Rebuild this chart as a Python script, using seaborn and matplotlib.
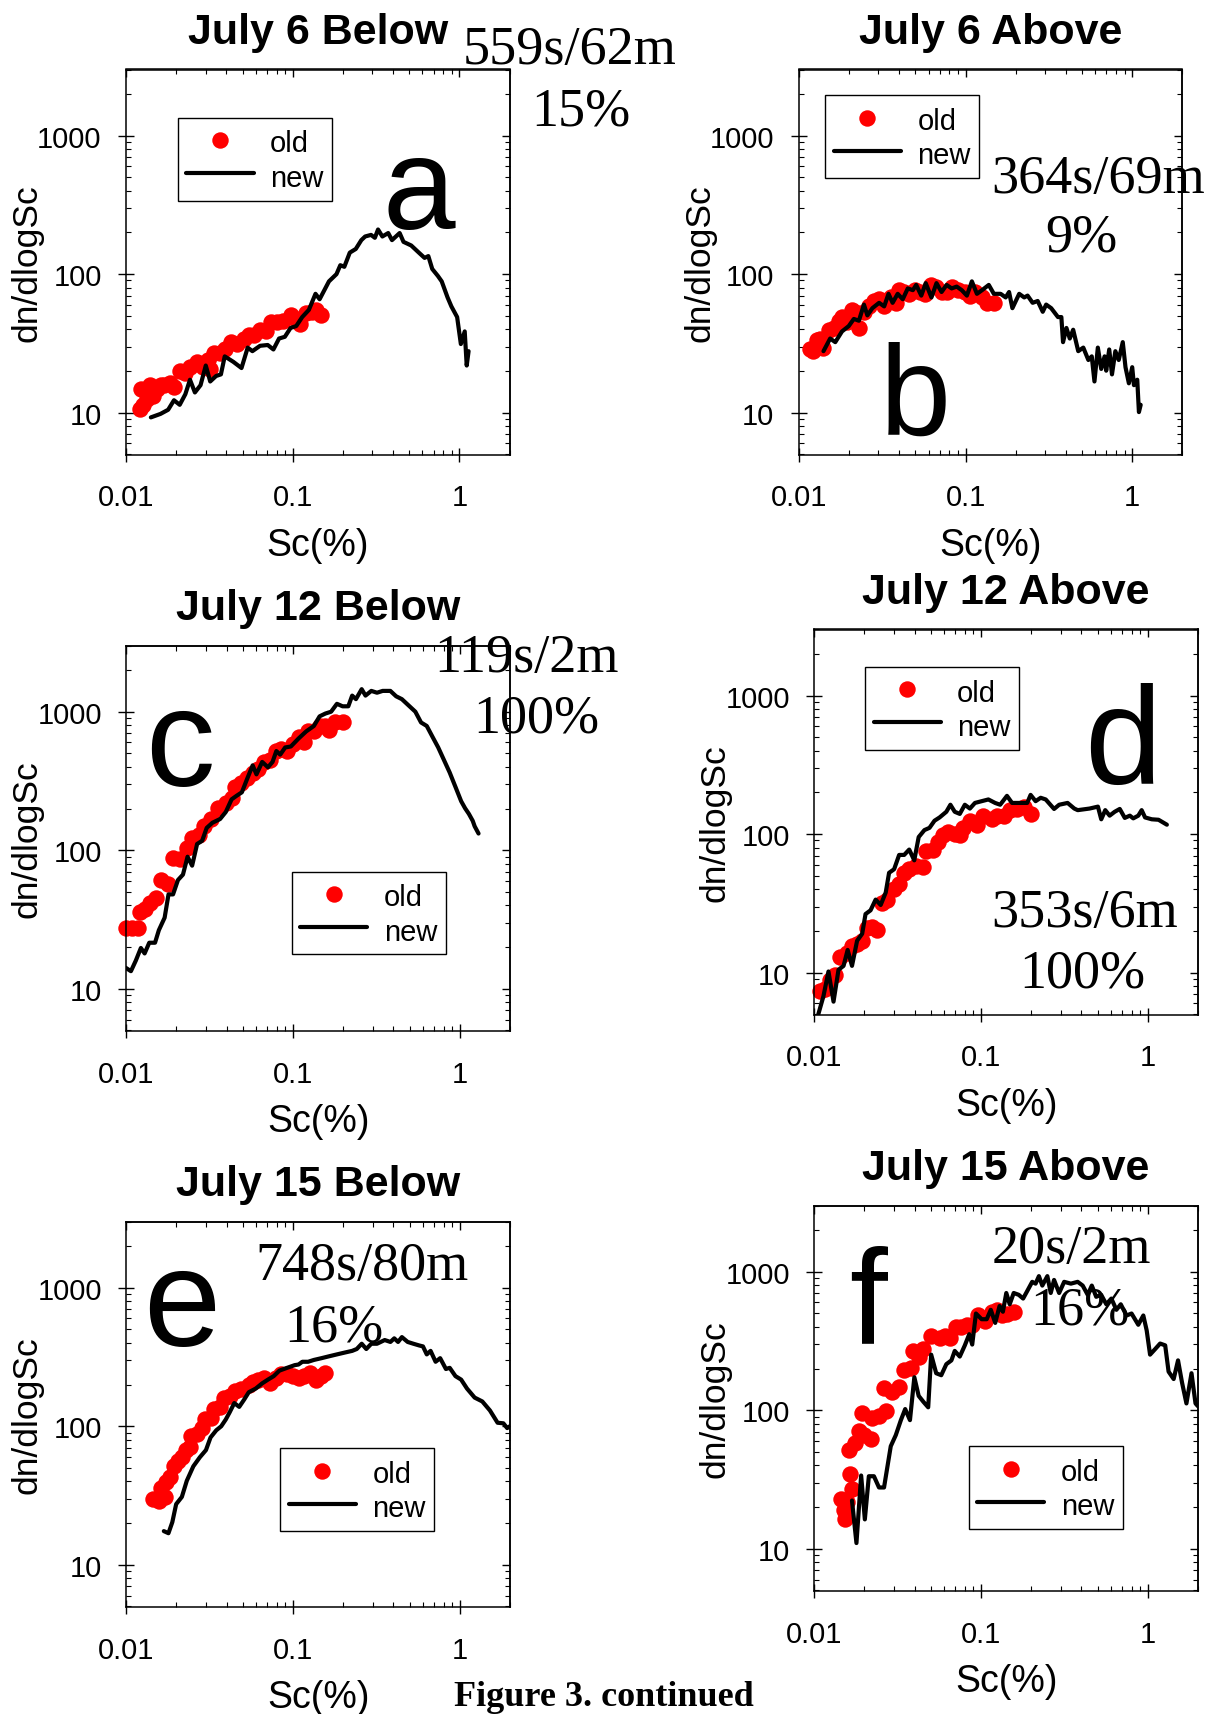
import numpy as np
import matplotlib
matplotlib.use("Agg")
import matplotlib.pyplot as plt
import seaborn as sns
from matplotlib.ticker import LogLocator, NullFormatter, FixedLocator

# ---------------- data (Sc in %, dn/dlogSc) ----------------
A_TITLE = "July 6 Below"
A_OLD = [(0.01216,10.7),(0.01269,11.4),(0.01236,14.9),(0.01337,12.5),(0.01395,15.8),(0.01448,13.2),
         (0.01528,14.9),(0.01611,15.8),(0.01698,15.8),(0.01838,16.3),(0.01938,15.4),(0.02096,20.1),
         (0.0227,19.5),(0.02432,21.3),(0.02661,23.3),(0.02879,21.3),(0.03084,24.0),(0.032,20.7),
         (0.03373,27.0),(0.03653,27.0),(0.0391,28.6),(0.0428,32.3),(0.04634,31.3),(0.05093,34.3),
         (0.05486,36.4),(0.05876,36.4),(0.06364,39.7),(0.06892,38.6),(0.07456,44.8),(0.08075,44.8),
         (0.0874,46.1),(0.09707,50.4),(0.1051,47.5),(0.1109,43.4),(0.12,52.0),(0.1299,53.5),
         (0.137,55.2),(0.1483,50.4)]
A_NEW = [(0.0141,9.25),(0.0161,9.8),(0.0179,10.5),(0.0194,12.3),(0.0210,11.4),(0.0227,13.6),
         (0.0242,17.3),(0.0259,14.0),(0.0280,15.8),(0.0301,21.9),(0.0320,16.8),(0.0347,18.4),
         (0.0371,18.9),(0.0391,25.5),(0.0440,23.3),(0.0493,21.0),(0.0537,29.5),(0.0573,27.8),
         (0.0637,30.4),(0.0708,30.8),(0.0766,28.6),(0.0828,34.3),(0.0897,35.3),(0.0971,40.9),
         (0.105,42.2),(0.114,49.0),(0.125,55.2),(0.137,72.1),(0.145,65.9),(0.165,88.7),
         (0.183,100),(0.193,116),(0.204,113),(0.220,143),(0.239,152),(0.258,176),(0.272,187),
         (0.295,192),(0.311,183),(0.325,210),(0.345,187),(0.374,198),(0.394,176),(0.438,198),
         (0.462,171),(0.514,161),(0.571,143),(0.618,131),(0.651,135),(0.687,109),(0.743,97),
         (0.783,88.7),(0.849,67.9),(0.895,58.5),(0.969,49),(1.02,31.3),(1.076,38.6),(1.106,21.9),
         (1.135,27.8)]

B_TITLE = "July 6 Above"
B_OLD = [(0.01166,28.6),(0.01222,27.8),(0.01281,33.3),(0.01342,34.3),(0.01406,29.5),(0.01508,39.7),
         (0.01616,40.9),(0.01733,46.1),(0.01816,49.0),(0.01946,44.8),(0.02087,55.2),(0.02187,53.5),
         (0.02292,40.9),(0.02458,53.5),(0.02635,58.5),(0.02825,64.0),(0.03032,65.9),(0.03252,58.5),
         (0.03571,67.9),(0.03829,62.1),(0.04011,76.6),(0.04301,74.3),(0.04611,72.1),(0.04944,76.6),
         (0.05302,74.3),(0.05685,72.1),(0.06247,83.6),(0.06698,81.3),(0.07182,74.3),(0.07701,74.3),
         (0.08258,81.3),(0.09062,76.6),(0.09945,74.3),(0.1066,70.0),(0.1145,74.3),(0.1256,67.9),
         (0.1348,62.1),(0.1479,62.1)]
B_NEW = [(0.01406,27.8),(0.01542,34.3),(0.01655,32.3),(0.01816,38.6),(0.01994,42.2),(0.02138,47.5),
         (0.02293,46.1),(0.02459,60.3),(0.02578,50.4),(0.02763,56.8),(0.03032,62.1),(0.03252,58.5),
         (0.03453,72.1),(0.03653,62.1),(0.03918,72.1),(0.04202,65.9),(0.04506,78.9),(0.04832,76.6),
         (0.05062,83.6),(0.05429,70.0),(0.05772,86.1),(0.06246,67.9),(0.06698,86.1),(0.07182,74.3),
         (0.07701,83.6),(0.08259,78.9),(0.08857,81.3),(0.09496,76.6),(0.1019,70.0),(0.1092,88.7),
         (0.1171,72.1),(0.1256,76.6),(0.1379,83.6),(0.1479,72.1),(0.1624,72.1),(0.1742,67.9),
         (0.1825,74.3),(0.1911,56.8),(0.2099,72.1),(0.225,67.9),(0.2357,70.0),(0.2527,62.1),
         (0.271,64.0),(0.2906,53.5),(0.3046,60.3),(0.3266,56.8),(0.3586,49.0),(0.3758,49.0),
         (0.3846,32.3),(0.403,40.9),(0.4222,34.3),(0.4424,39.7),(0.4745,27.8),(0.5088,29.5),
         (0.5457,24.0),(0.5718,25.5),(0.5936,16.8),(0.622,29.5),(0.6518,20.7),(0.6829,25.5),
         (0.6982,20.1),(0.7279,28.6),(0.7561,18.9),(0.7922,27.8),(0.83,24.0),(0.8776,32.3),
         (0.9113,21.3),(0.9549,16.3),(1.0,21.3),(1.024,15.8),(1.072,17.3),(1.097,10.1),(1.124,11.4)]

C_TITLE = "July 12 Below"
C_OLD = [(0.01,27.4),(0.01082,27.4),(0.01172,27.4),(0.01203,35.8),(0.01303,37.9),(0.01395,41.5),
         (0.01511,45.3),(0.0161,61.1),(0.0179,57.5),(0.01907,87.3),(0.02096,86.1),(0.02305,104),
         (0.02482,123),(0.02731,128),(0.02909,149),(0.032,168),(0.03557,201),(0.03953,219),
         (0.04281,240),(0.04513,287),(0.04885,304),(0.05283,332),(0.05727,364),(0.06196,386),
         (0.06708,434),(0.07262,448),(0.07863,520),(0.08509,535),(0.09211,520),(0.0997,585),
         (0.1079,659),(0.1168,603),(0.1232,721),(0.1334,721),(0.1444,789),(0.1564,789),
         (0.1649,743),(0.1784,836),(0.1983,836)]
C_NEW = [(0.0099,14.2),(0.01066,13.4),(0.01141,16.0),(0.01223,19.7),(0.01288,18.0),(0.01373,21.5),
         (0.01487,21.5),(0.01568,26.5),(0.01698,32.6),(0.01791,48.0),(0.01907,48.0),(0.02042,61.0),
         (0.02187,66.7),(0.0233,89.8),(0.02482,77.4),(0.02659,111),(0.0285,117),(0.03036,145),
         (0.03287,158),(0.03652,168),(0.03953,189),(0.04281,233),(0.04582,247),(0.04935,262),
         (0.05283,323),(0.05727,410),(0.06036,353),(0.06534,434),(0.07074,397),(0.07537,434),
         (0.07944,520),(0.0838,490),(0.08975,552),(0.09707,561),(0.1079,640),(0.12,721),
         (0.1334,789),(0.1444,926),(0.1564,970),(0.1693,1000),(0.1834,1140),(0.1984,1094),
         (0.2146,1094),(0.2264,1307),(0.2385,1232),(0.2582,1454),(0.2722,1307),(0.2949,1413),
         (0.319,1371),(0.3451,1413),(0.3836,1413),(0.4155,1292),(0.4497,1232),(0.5,1094),
         (0.5418,1000),(0.5862,836),(0.6343,789),(0.6866,659),(0.743,552),(0.8045,448),
         (0.8706,364),(0.9424,287),(1.02,226),(1.077,201),(1.135,183),(1.197,163),(1.229,149),
         (1.297,132)]

D_TITLE = "July 12 Above"
D_OLD = [(0.01082,7.38),(0.01161,7.60),(0.01245,8.83),(0.01335,9.65),(0.01431,13.0),(0.01571,13.8),
         (0.01684,15.5),(0.01806,16.0),(0.01936,17.0),(0.02076,20.9),(0.02226,21.5),(0.02387,20.3),
         (0.02559,31.7),(0.02744,33.7),(0.0301,40.3),(0.03228,44.0),(0.03461,52.6),(0.03711,55.8),
         (0.04071,59.3),(0.04475,57.5),(0.04686,75.2),(0.05142,77.4),(0.05514,87.3),(0.05913,98.2),
         (0.0634,104),(0.06957,101),(0.0746,98.2),(0.07814,111),(0.08577,125),(0.09412,117),
         (0.1033,136),(0.1161,128),(0.1245,136),(0.1366,136),(0.1499,149),(0.1645,153),
         (0.1806,158),(0.1982,140)]
D_NEW = [(0.01057,5.01),(0.01134,6.75),(0.01216,10.2),(0.01304,6.18),(0.01397,10.5),(0.01498,11.2),
         (0.01585,14.6),(0.01683,11.2),(0.01806,17.0),(0.01937,19.1),(0.02029,26.5),(0.02175,28.2),
         (0.02333,33.7),(0.02501,30.8),(0.02682,37.9),(0.02809,52.6),(0.03011,55.8),(0.03228,70.8),
         (0.0346,70.8),(0.0371,77.4),(0.03978,64.7),(0.04228,95.3),(0.04577,107),(0.04907,111),
         (0.05261,125),(0.05643,132),(0.06194,145),(0.06553,163),(0.06958,145),(0.07459,140),
         (0.07998,163),(0.08577,153),(0.09197,168),(0.101,173),(0.1107,178),(0.1215,168),
         (0.1303,163),(0.1431,189),(0.1535,168),(0.1645,168),(0.1806,168),(0.1893,168),
         (0.1984,192),(0.2126,173),(0.228,183),(0.2444,178),(0.2744,152),(0.2943,163),
         (0.3306,168),(0.3628,153),(0.3803,149),(0.4477,153),(0.5027,158),(0.5263,128),
         (0.5563,149),(0.5911,136),(0.6338,145),(0.6796,152),(0.7287,131),(0.7814,136),
         (0.8188,130),(0.878,136),(0.9196,149),(0.9641,132),(1.058,128),(1.161,127),(1.303,117)]

E_TITLE = "July 15 Below"
E_OLD = [(0.01448,30.0),(0.01567,29.1),(0.01697,30.9),(0.0161,35.9),(0.01742,39.3),(0.01837,43.0),
         (0.01937,51.4),(0.02042,56.2),(0.02154,59.7),(0.02271,67.3),(0.02395,71.4),(0.02459,85.5),
         (0.0266,88.1),(0.0285,96.4),(0.02957,112),(0.032,115),(0.03373,134),(0.03653,138),
         (0.03852,161),(0.04168,166),(0.04514,181),(0.04886,187),(0.05427,198),(0.05727,210),
         (0.06196,217),(0.06708,223),(0.07262,204),(0.07863,223),(0.08509,237),(0.09211,237),
         (0.0997,230),(0.1079,223),(0.1168,230),(0.1264,244),(0.137,217),(0.1482,230),(0.1564,244)]
E_NEW = [(0.01679,17.5),(0.0179,16.9),(0.01888,20.3),(0.01991,27.4),(0.02154,30.9),(0.02306,40.4),
         (0.02524,51.4),(0.02761,59.7),(0.03005,67.3),(0.03201,83.0),(0.03465,93.5),(0.03711,100),
         (0.03953,112),(0.04168,126),(0.04444,147),(0.04757,138),(0.05097,156),(0.05427,176),
         (0.05974,187),(0.06533,204),(0.07073,217),(0.07662,230),(0.08287,252),(0.09211,264),
         (0.1023,276),(0.1079,279),(0.1138,292),(0.1232,292),(0.1334,301),(0.1482,310),
         (0.1648,320),(0.1833,330),(0.2037,340),(0.2264,350),(0.2412,361),(0.2583,394),
         (0.2752,361),(0.2949,394),(0.319,394),(0.3548,419),(0.3841,406),(0.4049,431),
         (0.4268,406),(0.4499,440),(0.4872,406),(0.5274,394),(0.5711,383),(0.6019,377),
         (0.6344,330),(0.6687,350),(0.7167,292),(0.7634,310),(0.8264,259),(0.871,264),
         (0.943,230),(1.02,217),(1.106,187),(1.229,161),(1.366,151),(1.518,130),(1.687,106),
         (1.827,105),(1.926,97),(2.0,100)]

F_TITLE = "July 15 Above"
F_OLD = [(0.01451,23.0),(0.01499,19.1),(0.01534,16.3),(0.01571,21.6),(0.01684,26.9),(0.01645,34.5),
         (0.01607,51.6),(0.01763,58.5),(0.01848,70.5),(0.01982,66.2),(0.02174,62.2),(0.01936,95.9),
         (0.02225,87.4),(0.02442,90.2),(0.0268,99.1),(0.02619,144),(0.02943,135),(0.0323,148),
         (0.03463,196),(0.038,202),(0.03888,268),(0.04268,244),(0.04474,276),(0.05025,344),
         (0.05643,333),(0.06052,344),(0.0649,333),(0.07122,401),(0.07638,401),(0.08191,414),
         (0.08784,414),(0.0964,483),(0.1058,440),(0.1161,514),(0.1245,531),(0.1334,483),
         (0.1431,499),(0.1571,514)]
F_NEW = [(0.01683,22.3),(0.0179,11.0),(0.0191,33.8),(0.0201,16.3),(0.02124,33.4),(0.02279,33.4),
         (0.02444,27.7),(0.0262,27.7),(0.02875,55.0),(0.03083,66.2),(0.03306,84.8),(0.03509,102),
         (0.03748,84.8),(0.03982,173),(0.04227,127),(0.04514,115),(0.04822,105),(0.05025,252),
         (0.05385,185),(0.05775,179),(0.06194,215),(0.06643,229),(0.06958,268),(0.07459,244),
         (0.07998,294),(0.085,354),(0.08856,298),(0.09324,499),(0.1009,454),(0.1082,454),
         (0.1145,531),(0.1217,427),(0.1292,565),(0.1353,514),(0.1418,702),(0.1486,582),
         (0.1571,702),(0.1684,681),(0.1789,640),(0.1892,724),(0.2028,845),(0.2125,820),
         (0.2225,929),(0.2332,794),(0.25,929),(0.262,702),(0.2743,872),(0.2942,702),
         (0.3154,845),(0.346,820),(0.38,845),(0.4073,794),(0.4366,681),(0.462,794),(0.4909,659),
         (0.526,681),(0.5643,582),(0.6051,640),(0.6489,531),(0.6891,582),(0.7461,483),(0.8,499),
         (0.8778,414),(0.9411,483),(0.9858,377),(1.033,252),(1.107,276),(1.187,303),(1.273,294),
         (1.334,190),(1.431,168),(1.52,229),(1.607,158),(1.707,112),(1.831,185),(1.935,112),
         (2.0,107)]

STATS = {"a": ("559s/62m", "15%"), "b": ("364s/69m", "9%"), "c": ("119s/2m", "100%"),
         "d": ("353s/6m", "100%"), "e": ("748s/80m", "16%"), "f": ("20s/2m", "16%")}

X_TICKS = [0.01, 0.1, 1]
X_TICKLABELS = ["0.01", "0.1", "1"]
Y_TICKS = [10, 100, 1000]
Y_TICKLABELS = ["10", "100", "1000"]
SERIES_LABELS = ("old", "new")
X_LABEL = "Sc(%)"
Y_LABEL = "dn/dlogSc"
CAPTION = "Figure 3. continued"

# ---------------- layout (pixels of a 1209x1715 canvas) ----------------
W, H = 1209, 1715
AX_W, AX_H = 383.6, 385.5
SANS = ["Liberation Sans", "DejaVu Sans"]
SERIF = ["Liberation Serif", "DejaVu Serif"]

sns.set_theme(style="white")
plt.rcParams["font.family"] = SANS
plt.rcParams["axes.edgecolor"] = "black"
plt.rcParams["text.color"] = "black"
plt.rcParams["axes.labelcolor"] = "black"
plt.rcParams["xtick.color"] = "black"
plt.rcParams["ytick.color"] = "black"
plt.rcParams["axes.titlecolor"] = "black"

fig = plt.figure(figsize=(W / 100, H / 100), dpi=100)
fig.patch.set_facecolor("white")

panels = [
    # key, title, old, new, left px, top px, legend (x0, ytop), stat1 (x,y), stat2 (x,y), letter (x,y,size)
    ("a", A_TITLE, A_OLD, A_NEW, 126.0, 70.5, (0.1348, 0.8744), (569.8, 64.3), (581.0, 125.0), (419.0, 228.6, 94)),
    ("b", B_TITLE, B_OLD, B_NEW, 798.8, 70.5, (0.0686, 0.9328), (1098.0, 192.9), (1081.5, 251.8), (915.6, 435.0, 92)),
    ("c", C_TITLE, C_OLD, C_NEW, 126.3, 646.6, (0.4310, 0.4135), (526.7, 671.8), (536.3, 732.5), (179.4, 786.0, 100)),
    ("d", D_TITLE, D_OLD, D_NEW, 814.3, 630.5, (0.1319, 0.9027), (1085.0, 927.0), (1082.3, 987.9), (1123.0, 784.3, 100)),
    ("e", E_TITLE, E_OLD, E_NEW, 126.3, 1222.6, (0.4012, 0.4122), (362.0, 1279.7), (333.5, 1341.0), (181.3, 1346.4, 100)),
    ("f", F_TITLE, F_OLD, F_NEW, 814.3, 1206.6, (0.4020, 0.3754), (1071.4, 1263.0), (1079.8, 1324.5), (867.6, 1343.2, 98)),
]

def fx(px):
    return px / W

def fy(py):
    return 1 - py / H

for key, title, old, new, left, top, leg_xy, s1, s2, letter in panels:
    ax = fig.add_axes([fx(left), fy(top + AX_H), AX_W / W, AX_H / H])
    ox, oy = zip(*old)
    nx, ny = zip(*new)
    sns.scatterplot(x=list(ox), y=list(oy), ax=ax, color="#ff0000", s=140, linewidth=0,
                    label=SERIES_LABELS[0], zorder=2, clip_on=False)
    sns.lineplot(x=list(nx), y=list(ny), ax=ax, color="black", linewidth=3.0, sort=False,
                 estimator=None, label=SERIES_LABELS[1], zorder=3)
    ax.set_xscale("log")
    ax.set_yscale("log")
    ax.set_xlim(0.01, 2.0)
    ax.set_ylim(4.95, 3000)

    ax.xaxis.set_major_locator(FixedLocator(X_TICKS))
    ax.set_xticklabels(X_TICKLABELS)
    ax.yaxis.set_major_locator(FixedLocator(Y_TICKS))
    ax.set_yticklabels(Y_TICKLABELS)
    ax.xaxis.set_minor_locator(LogLocator(base=10, subs=np.arange(2, 10)))
    ax.yaxis.set_minor_locator(LogLocator(base=10, subs=np.arange(2, 10)))
    ax.xaxis.set_minor_formatter(NullFormatter())
    ax.yaxis.set_minor_formatter(NullFormatter())

    ax.tick_params(axis="x", which="major", direction="inout", length=10, width=1.0,
                   pad=15.5, labelsize=21, bottom=True, top=False, colors="black")
    ax.tick_params(axis="y", which="major", direction="inout", length=12, width=1.0,
                   pad=11.5, labelsize=21, left=True, right=False, colors="black")
    ax.tick_params(which="minor", direction="in", length=3.6, width=0.8,
                   bottom=True, left=True, top=False, right=False, colors="black")
    for sp in ax.spines.values():
        sp.set_color("black")
        sp.set_linewidth(1.1)
        sp.set_visible(True)

    # top and right: inward ticks only
    secx = ax.secondary_xaxis("top")
    secx.xaxis.set_major_locator(FixedLocator(X_TICKS))
    secx.xaxis.set_minor_locator(LogLocator(base=10, subs=np.arange(2, 10)))
    secx.tick_params(which="major", direction="in", length=5.5, width=1.0, labeltop=False, labelbottom=False)
    secx.tick_params(which="minor", direction="in", length=3.6, width=0.8, labeltop=False, labelbottom=False)
    secx.spines["top"].set_linewidth(1.1)
    secy = ax.secondary_yaxis("right")
    secy.yaxis.set_major_locator(FixedLocator(Y_TICKS))
    secy.yaxis.set_minor_locator(LogLocator(base=10, subs=np.arange(2, 10)))
    secy.tick_params(which="major", direction="in", length=5.5, width=1.0, labelright=False, labelleft=False)
    secy.tick_params(which="minor", direction="in", length=3.6, width=0.8, labelright=False, labelleft=False)
    secy.spines["right"].set_linewidth(1.1)

    ax.set_title(title, fontsize=31, fontweight="bold", pad=19.3, color="black")
    ax.set_xlabel(X_LABEL, fontsize=27, color="black")
    ax.xaxis.set_label_coords(0.5, -0.186)
    ax.set_ylabel(Y_LABEL, fontsize=25.5, color="black")
    ax.yaxis.set_label_coords(-0.2156, 0.5)

    leg = ax.legend(loc="upper left", bbox_to_anchor=leg_xy, borderaxespad=0, fontsize=21,
                    frameon=True, fancybox=False, edgecolor="black", framealpha=1,
                    borderpad=0.3, labelspacing=0.12, handlelength=2.3, handletextpad=0.56,
                    handleheight=1.2, scatterpoints=1)
    leg.get_frame().set_linewidth(1.0)
    for t in leg.get_texts():
        t.set_color("black")
    leg.set_zorder(5)

    fig.text(fx(s1[0]), fy(s1[1]), STATS[key][0], ha="center", va="baseline",
             fontsize=39, family=SERIF, color="black", zorder=10)
    fig.text(fx(s2[0]), fy(s2[1]), STATS[key][1], ha="center", va="baseline",
             fontsize=39, family=SERIF, color="black", zorder=10)
    fig.text(fx(letter[0]), fy(letter[1]), key, ha="center", va="baseline",
             fontsize=letter[2], family=SANS, color="black", zorder=10)

fig.text(fx(604), fy(1706), CAPTION, ha="center", va="baseline", fontsize=26,
         fontweight="bold", family=SERIF, color="black")

fig.savefig("out.png", dpi=100, facecolor="white")
